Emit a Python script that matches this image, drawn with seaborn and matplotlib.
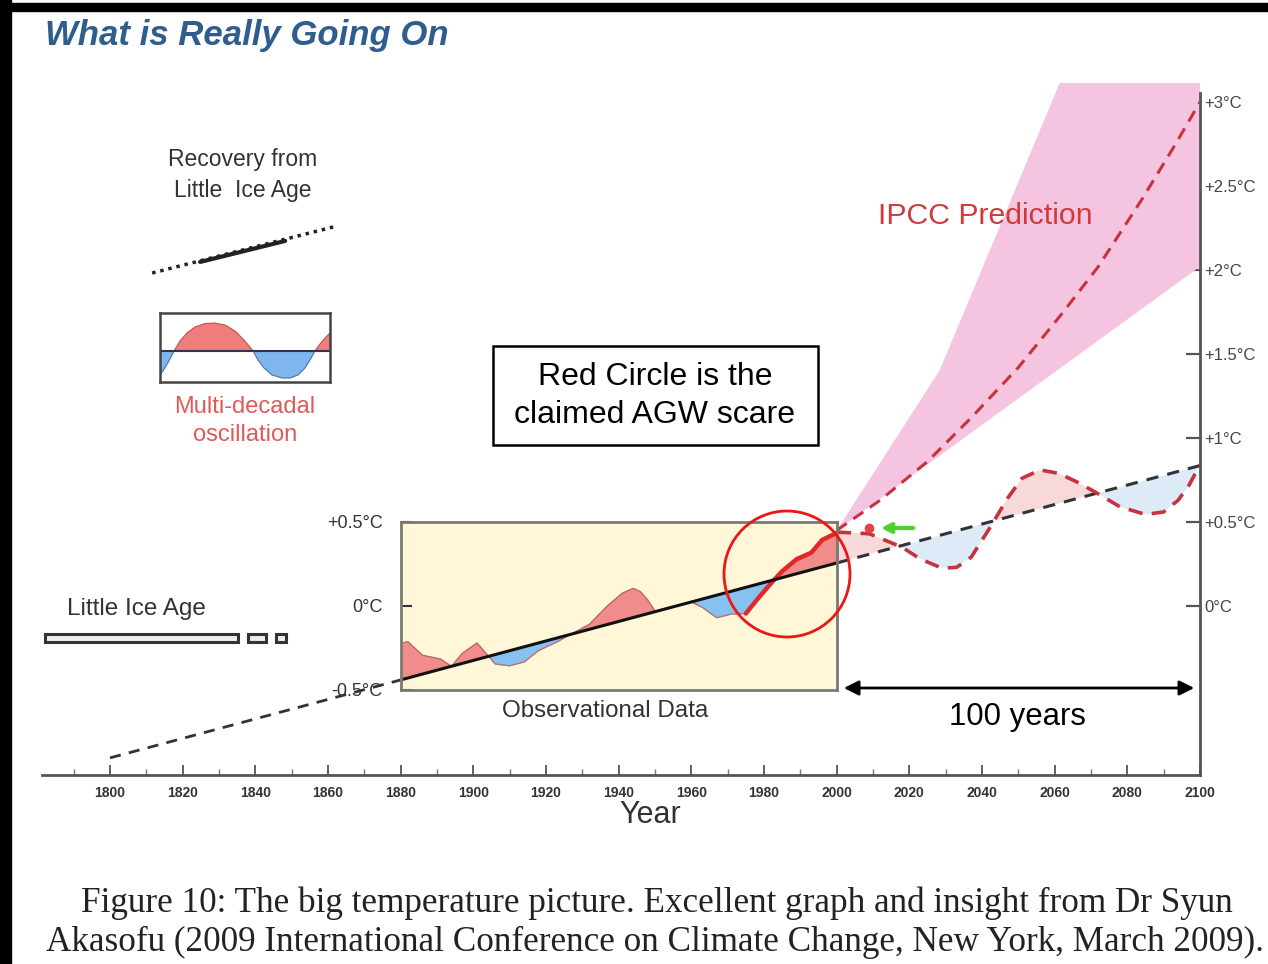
import numpy as np
import matplotlib
matplotlib.use("Agg")
import matplotlib.pyplot as plt
import seaborn as sns
from matplotlib.patches import Ellipse, Rectangle

# ---------------- data ----------------
tick_years = list(range(1800, 2101, 20))
minor_years = list(range(1790, 2101, 10))
right_ticks = [0, 0.5, 1, 1.5, 2, 2.5, 3]
right_labels = ["0°C", "+0.5°C", "+1°C", "+1.5°C", "+2°C", "+2.5°C", "+3°C"]
box_ticks = [-0.5, 0, 0.5]
box_labels = ["-0.5°C", "0°C", "+0.5°C"]

# recovery-from-LIA linear trend
trend_years = [1800, 1880, 2000, 2100]
trend_temp = [-0.904, -0.44, 0.256, 0.836]

# observational data (1880-2000)
obs_years = [1880, 1882, 1886, 1891, 1894, 1897, 1901, 1904, 1906, 1910, 1914, 1918,
             1923, 1927, 1932, 1937, 1941, 1944, 1946, 1948, 1950, 1955, 1960, 1963,
             1967, 1971, 1975, 1978, 1982, 1985, 1989, 1993, 1996, 2000]
obs_temp = [-0.222, -0.213, -0.293, -0.316, -0.359, -0.281, -0.220, -0.294, -0.345,
            -0.356, -0.333, -0.265, -0.214, -0.167, -0.108, 0.003, 0.076, 0.105,
            0.085, 0.035, -0.030, -0.001, 0.024, -0.008, -0.070, -0.048, -0.045,
            0.036, 0.137, 0.207, 0.279, 0.317, 0.393, 0.435]
recent_start = 1975

# Akasofu projection (trend + oscillation)
proj_years = [2000, 2009, 2018, 2023, 2029, 2033, 2037, 2042, 2047, 2051, 2056,
              2061, 2066, 2071, 2078, 2085, 2090, 2094, 2097, 2100]
proj_temp = [0.44, 0.43, 0.35, 0.28, 0.225, 0.23, 0.29, 0.46, 0.64, 0.76, 0.81,
             0.79, 0.74, 0.68, 0.59, 0.545, 0.56, 0.63, 0.72, 0.84]

# IPCC prediction
ipcc_years = [2000, 2012, 2025, 2037, 2050, 2062, 2072, 2084, 2093, 2100]
ipcc_mid = [0.45, 0.63, 0.86, 1.12, 1.42, 1.74, 2.02, 2.42, 2.74, 3.00]
ipcc_up_years = [2000, 2028.4, 2061.5, 2100]
ipcc_up = [0.45, 1.405, 3.12, 3.12]
ipcc_lo_years = [2000, 2100]
ipcc_lo = [0.45, 2.02]

marker_year = [2009]
marker_temp = [0.465]

# schematic insets
recov_years = [1811.6, 1862.5]
recov_temp = [1.982, 2.262]
recov_solid_years = [1824.8, 1848.2]
recov_solid_temp = [2.048, 2.173]

osc_x = [0, 3, 6, 10, 14, 20, 27, 35, 45, 55, 65, 75, 83, 89, 93, 98, 104, 112,
         122, 130, 138, 145, 150, 155, 160, 165, 170]
osc_y = [-24, -20, -15, -8, 0, 10, 18, 24, 27.5, 28, 26, 20, 12, 5, 0, -9, -17,
         -24, -27, -27, -24, -17, -9, 0, 7, 13, 18]

lia_left = [1782.1, 1838.0, 1845.7]
lia_width = [53.1, 4.9, 2.7]

# ---------------- style ----------------
sns.set_theme(style="white")
plt.rcParams['font.family'] = ['Liberation Sans', 'DejaVu Sans']

W, H = 1268, 964
fig = plt.figure(figsize=(W / 100, H / 100), dpi=100)
fig.patch.set_facecolor("white")


def fx(px):
    return px / W


def fy(py):
    return 1 - py / H


def yr(px):
    return 1800 + (px - 110) / 3.6333


def tc(py):
    return (606 - py) / 168.0


ax = fig.add_axes([fx(42), fy(775), (1200 - 42) / W, (775 - 83) / H])
ax.set_xlim(yr(42), 2100)
ax.set_ylim(tc(775), tc(83))
ax.set_facecolor("none")

RED_D = "#C8323C"
DARK = "#333333"

# IPCC band
poly_x = ipcc_up_years + ipcc_lo_years[::-1]
poly_y = ipcc_up + ipcc_lo[::-1]
ax.fill(poly_x, poly_y, color="#F5C4E0", lw=0, zorder=1)

# projection fills between oscillation and trend
p_years = np.array(proj_years, dtype=float)
p_temp = np.array(proj_temp)
p_trend = np.interp(p_years, trend_years, trend_temp)
ax.fill_between(p_years, p_trend, p_temp, where=p_temp >= p_trend, interpolate=True,
                color="#F8D9D9", lw=0, zorder=1.5)
ax.fill_between(p_years, p_trend, p_temp, where=p_temp < p_trend, interpolate=True,
                color="#DDEBF8", lw=0, zorder=1.5)

# trend dashed outside the box
sns.lineplot(x=trend_years[:2], y=trend_temp[:2], ax=ax, color=DARK, lw=2,
             linestyle=(0, (4, 3)), zorder=2)
sns.lineplot(x=trend_years[2:], y=trend_temp[2:], ax=ax, color=DARK, lw=2.2,
             linestyle=(0, (4, 3)), zorder=2)

# projections
sns.lineplot(x=proj_years, y=proj_temp, ax=ax, color=RED_D, lw=2.6,
             linestyle=(0, (4, 2.6)), zorder=3)
sns.lineplot(x=ipcc_years, y=ipcc_mid, ax=ax, color=RED_D, lw=2.2,
             linestyle=(0, (4, 2.6)), zorder=3)
ax.plot(marker_year, marker_temp, "o", color="#E04646", ms=6, zorder=4)
ax.annotate("", xy=(yr(878), tc(528)), xytext=(yr(916), tc(528)),
            arrowprops=dict(arrowstyle="-|>", color="#4CD22A", lw=3, mutation_scale=14),
            zorder=4)

# recovery schematic line
sns.lineplot(x=recov_years, y=recov_temp, ax=ax, color="#222222", lw=2.5,
             linestyle=(0, (1, 1.4)), zorder=3)
sns.lineplot(x=recov_solid_years, y=recov_solid_temp, ax=ax, color="#222222", lw=3,
             zorder=3)

# Little ice age bars
ax.barh(y=[tc(638)] * 3, width=lia_width, left=lia_left, height=0.05,
        color="#E6EFEC", edgecolor="#333333", lw=2.2, zorder=3)

# double arrow 100 years
ax.annotate("", xy=(yr(841), tc(688)), xytext=(yr(1197), tc(688)),
            arrowprops=dict(arrowstyle="<|-|>", color="black", lw=2, mutation_scale=22))

# axes styling
for s in ["left", "top"]:
    ax.spines[s].set_visible(False)
for s in ["bottom", "right"]:
    ax.spines[s].set_color("#555555")
    ax.spines[s].set_linewidth(2)
ax.spines["right"].set_bounds(tc(775), tc(93))
ax.set_xticks(tick_years)
ax.set_xticklabels([str(y) for y in tick_years])
ax.set_xticks(minor_years, minor=True)
ax.tick_params(axis="x", which="major", direction="in", length=7, width=1.3,
               color="#555555", labelsize=10, pad=8, labelcolor="#333333", bottom=True)
ax.tick_params(axis="x", which="minor", direction="in", length=4, width=1,
               color="#777777", bottom=True)
for lab in ax.get_xticklabels():
    lab.set_fontweight("bold")
    lab.set_fontfamily(["Liberation Sans Narrow", "Liberation Sans"])
ax.yaxis.tick_right()
ax.set_yticks(right_ticks)
ax.set_yticklabels(right_labels)
ax.tick_params(axis="y", direction="in", length=10, width=1.6, color="#555555",
               labelsize=12, pad=3, labelcolor="#444444", right=True, left=False)
ax.set_xlabel("")
ax.set_ylabel("")
ax.grid(False)

# ---------- observational box ----------
axo = ax.inset_axes([1880, -0.5, 120, 1.0], transform=ax.transData)
axo.set_xlim(1880, 2000)
axo.set_ylim(-0.5, 0.5)
axo.set_facecolor("#FFF7D8")
for s in axo.spines.values():
    s.set_color("#7A7A70")
    s.set_linewidth(2)
o_years = np.array(obs_years, dtype=float)
o_temp = np.array(obs_temp)
o_trend = np.interp(o_years, trend_years, trend_temp)
axo.fill_between(o_years, o_trend, o_temp, where=o_temp >= o_trend, interpolate=True,
                 color="#F08C8C", edgecolor="#C86464", lw=0.8)
axo.fill_between(o_years, o_trend, o_temp, where=o_temp < o_trend, interpolate=True,
                 color="#86C2F0", edgecolor="#8E96B8", lw=0.8)
sns.lineplot(x=o_years, y=o_temp, ax=axo, color="#C06A6A", lw=0.8)
mask = o_years >= recent_start
sns.lineplot(x=o_years[mask], y=o_temp[mask], ax=axo, color="#E3262A", lw=3.2)
sns.lineplot(x=trend_years[1:3], y=trend_temp[1:3], ax=axo, color="#111111", lw=2.2)
axo.set_xticks([])
axo.set_yticks(box_ticks)
axo.set_yticklabels(box_labels)
axo.tick_params(axis="y", direction="in", length=8, width=1.5, color="#333333",
                labelsize=13, pad=13, labelcolor="#333333", left=True)
axo.set_xlabel("")
axo.set_ylabel("")
circ = Ellipse((yr(787), tc(574)), 126 / 3.6333, 126 / 168.0, fill=False,
               ec="#EE1515", lw=2, clip_on=False, zorder=10)
axo.add_patch(circ)

# ---------- oscillation inset ----------
axm = fig.add_axes([fx(160), fy(382), 170 / W, 69 / H])
axm.set_xlim(0, 170)
axm.set_ylim(-31, 38)
ox = np.array(osc_x, dtype=float)
oy = np.array(osc_y, dtype=float)
axm.fill_between(ox, 0, oy, where=oy >= 0, interpolate=True, color="#F07C7C",
                 edgecolor="#C05050", lw=0.8)
axm.fill_between(ox, 0, oy, where=oy < 0, interpolate=True, color="#7FB6EE",
                 edgecolor="#5070A0", lw=0.8)
axm.axhline(0, color="#333355", lw=1.5)
axm.set_xticks([])
axm.set_yticks([])
axm.set_facecolor("white")
for s in axm.spines.values():
    s.set_color("#444444")
    s.set_linewidth(1.8)

# ---------- texts ----------
fig.text(fx(45), fy(36), "What is Really Going On", fontsize=25, fontweight="bold",
         fontstyle="italic", color="#2F5D8E", va="center", ha="left")
fig.text(fx(243), fy(175), "Recovery from\nLittle  Ice Age", fontsize=16.5,
         color="#333333", ha="center", va="center", linespacing=1.43)
fig.text(fx(245), fy(421), "Multi-decadal\noscillation", fontsize=17,
         color="#E05A5A", ha="center", va="center", linespacing=1.39)
fig.text(fx(136), fy(609), "Little Ice Age", fontsize=17.5, color="#333333",
         ha="center", va="center")
fig.text(fx(985), fy(216), "IPCC Prediction", fontsize=21.8, color="#D03A3A",
         ha="center", va="center")
fig.text(fx(605), fy(711), "Observational Data", fontsize=17.4, color="#333333",
         ha="center", va="center")
fig.text(fx(1017), fy(717), "100 years", fontsize=22.4, color="black",
         ha="center", va="center")
fig.text(fx(650), fy(815), "Year", fontsize=22, color="#333333", ha="center",
         va="center", family=["Liberation Sans Narrow", "Liberation Sans"])

fig.patches.append(Rectangle((fx(493), fy(445)), (818 - 493) / W, (445 - 346) / H,
                             transform=fig.transFigure, fill=True, fc="white",
                             ec="black", lw=1.8, zorder=5))
fig.text(fx(655), fy(396), "Red Circle is the\nclaimed AGW scare", fontsize=23,
         color="black", ha="center", va="center", linespacing=1.39, zorder=6)

fig.text(fx(657), fy(903),
         "Figure 10: The big temperature picture. Excellent graph and insight from Dr Syun",
         family=["Liberation Serif", "DejaVu Serif"], fontsize=25.3, color="#222222",
         ha="center", va="center")
fig.text(fx(655), fy(942),
         "Akasofu (2009 International Conference on Climate Change, New York, March 2009).",
         family=["Liberation Serif", "DejaVu Serif"], fontsize=25.3, color="#222222",
         ha="center", va="center")

# frame bars
fig.patches.append(Rectangle((0, fy(11)), 1, 8 / H, transform=fig.transFigure,
                             color="black", zorder=20))
fig.patches.append(Rectangle((0, 0), fx(11), 1, transform=fig.transFigure,
                             color="black", zorder=20))

fig.savefig("out.png", dpi=100)
